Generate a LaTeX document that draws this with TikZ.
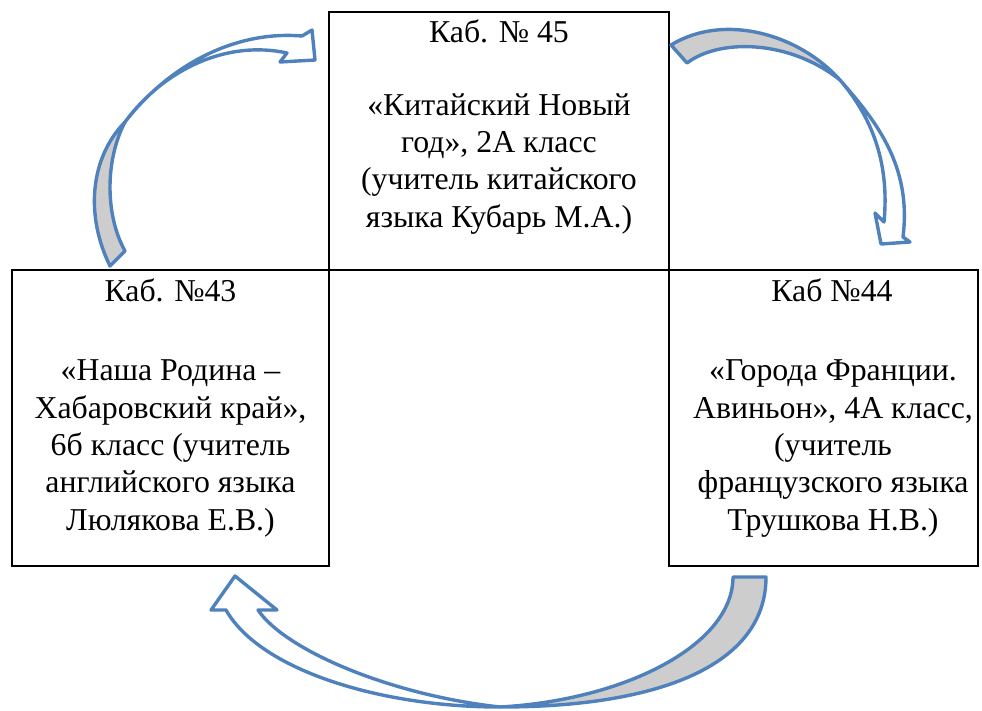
\documentclass[tikz,border=0pt]{standalone}
\usepackage{fontspec}
\setmainfont{Liberation Serif}
\definecolor{arrowblue}{HTML}{4F81BD}
\definecolor{backgrey}{HTML}{CDCDCD}
\begin{document}
\begin{tikzpicture}[x=1pt,y=-1pt,
  cell/.style={draw=black, line width=2.2pt, inner sep=0pt},
  arrowline/.style={draw=arrowblue, line width=3.4pt, line join=round},
  backpart/.style={arrowline, fill=backgrey},
  frontpart/.style={arrowline, fill=white},
  label/.style={font=\fontsize{31.8}{37.3}\selectfont, align=center, inner sep=0pt, anchor=base}
]
\useasboundingbox (0,0) rectangle (982,710);

% boxes
\node[cell, minimum width=340pt, minimum height=258pt] (b45) at (499,141) {};
\node[cell, minimum width=317pt, minimum height=296pt] (b43) at (170.5,418) {};
\node[cell, minimum width=309pt, minimum height=296pt] (b44) at (823.5,418) {};

% texts (multi-line nodes: base anchor = last line's baseline)
\node[label] (t45) at (499,42) {Каб. № 45};
\node[label] (p45) at (499,227) {«Китайский Новый\\год», 2А класс\\(учитель китайского\\языка Кубарь М.А.)};
\node[label] (t43) at (170.5,301.5) {Каб. №43};
\node[label] (p43) at (170.5,530) {«Наша Родина –\\Хабаровский край»,\\6б класс (учитель\\английского языка\\Люлякова Е.В.)};
\node[label] (t44) at (832,301.5) {Каб №44};
\node[label] (p44) at (833,530) {«Города Франции.\\Авиньон», 4А класс,\\(учитель\\французского языка\\Трушкова Н.В.)};

% arrow from left box to top box
\path[backpart] (110,266) .. controls (85,215) and (90,158) .. (125,122)
  .. controls (105,160) and (105,215) .. (125,251) -- cycle;
\path[frontpart] (125,122) .. controls (165,70) and (230,30) .. (302,36)
  -- (312,30) -- (315,60) -- (280,62) -- (287,53)
  .. controls (228,40) and (165,68) .. (125,122) -- cycle;

% arrow from top box to right box
\path[backpart] (671,45) .. controls (725,12) and (800,35) .. (840,80)
  .. controls (790,40) and (720,38) .. (687,63) -- cycle;
\path[frontpart] (840,80) .. controls (875,120) and (912,165) .. (903,237)
  -- (910,242) -- (881,244) -- (875,213) -- (884,222)
  .. controls (890,160) and (870,115) .. (840,80) -- cycle;

% arrow from right box to left box
\path[backpart] (766,577) .. controls (766,665) and (660,707) .. (500,707)
  .. controls (625,700) and (733,645) .. (733,577) -- cycle;
\path[frontpart] (500,707) .. controls (380,707) and (260,670) .. (226,610)
  -- (211,610) -- (235,576) -- (277,610) -- (258,610)
  .. controls (285,650) and (390,695) .. (500,707) -- cycle;
\end{tikzpicture}
\end{document}
